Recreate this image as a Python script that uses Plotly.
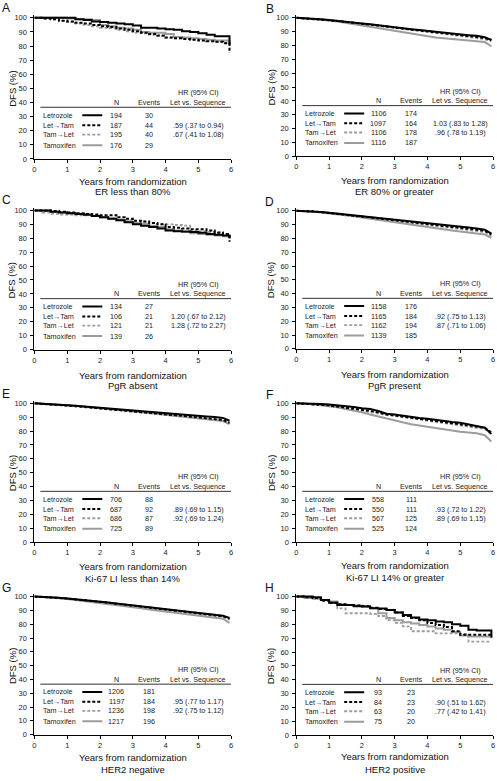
import plotly.graph_objects as go

W, H = 497, 781

YEARS = [0, 0.25, 0.5, 0.75, 1, 1.25, 1.5, 1.75, 2, 2.25, 2.5, 2.75, 3, 3.25, 3.5, 3.75,
         4, 4.25, 4.5, 4.75, 5, 5.25, 5.5, 5.75, 5.95]
X_TICKS = [0, 1, 2, 3, 4, 5, 6]
Y_TICKS = [0, 10, 20, 30, 40, 50, 60, 70, 80, 90, 100]
ARMS = ["Letrozole", "Let\u2192Tam", "Tam\u2192Let", "Tamoxifen"]

# Panel A: ER less than 80%
A_LET = [100, 100, 100, 100, 100, 99, 98.5, 97.5, 97, 96.5, 96, 95.5, 94.5, 93, 93, 92.5, 92, 91.5, 90.5, 90, 89, 88, 87, 87, 81]
A_LT = [100, 99.5, 99, 98, 97.5, 96.5, 96, 95, 94, 93.5, 92.5, 91.5, 90.5, 89.5, 88.5, 87.5, 86, 85.5, 85, 84.5, 84, 83.5, 83, 82, 75]
A_TL = [100, 99.5, 99, 98, 97, 96, 95, 94, 93, 92.5, 91.5, 90.5, 89.5, 89, 88, 87, 86, 85.5, 85, 84.5, 84, 83.5, 83, 82.5, 80]
A_TAM = [100, 100, 100, 100, 99.5, 99, 99, 98.5, 95, 94, 93, 92.5, 91.5, 90, 89.5, 89.5, 88.5, 86.5, 86, 85.5, 85, 84.5, 84, 84, 82]
A_N = [194, 187, 195, 176]
A_EV = [30, 44, 40, 29]
A_HR = ["", ".59 (.37 to 0.94)", ".67 (.41 to 1.08)", ""]

# Panel B: ER 80% or greater
B_LET = [100, 99.8, 99.5, 99, 98.5, 98, 97.5, 96.8, 96, 95.3, 94.5, 93.8, 93, 92.5, 91.8, 91.2, 90.5, 90, 89.3, 88.7, 88, 87.5, 87, 86, 84]
B_LT = [100, 99.7, 99.3, 98.8, 98.3, 97.8, 97.2, 96.6, 96, 95.2, 94.5, 93.8, 93, 92.3, 91.6, 91, 90.3, 89.7, 89, 88.4, 87.8, 87, 86.3, 85.5, 84]
B_TL = [100, 99.7, 99.3, 98.8, 98.2, 97.6, 97, 96.3, 95.6, 94.9, 94.2, 93.5, 92.7, 92, 91.3, 90.6, 89.9, 89.2, 88.5, 87.8, 87, 86.2, 85.4, 84.5, 83]
B_TAM = [100, 99.6, 99.2, 98.6, 98, 97.3, 96.5, 95.5, 94.5, 93.5, 92.5, 91.5, 90.5, 89.5, 88.5, 87.5, 86.5, 85.8, 85.2, 84.6, 84, 83.3, 83, 82.5, 79.5]
B_N = [1106, 1097, 1106, 1116]
B_EV = [174, 164, 178, 187]
B_HR = ["", "1.03 (.83 to 1.28)", ".96 (.78 to 1.19)", ""]

# Panel C: PgR absent
C_LET = [100, 100, 99, 98.5, 98, 97.5, 96.8, 96, 95, 94, 93, 91.5, 90, 89, 88, 87, 85.5, 85, 84.8, 84.5, 84, 83, 82.5, 82, 80]
C_LT = [100, 100, 99.5, 99, 98.5, 98, 97.5, 97, 96.5, 96.5, 95, 94, 92.5, 92, 91, 90, 88, 87.5, 87, 86.5, 86.5, 85.5, 84, 83, 77.5]
C_TL = [100, 98.5, 97.5, 97, 97, 96.5, 96.5, 96, 95, 94.5, 93.5, 93, 92.5, 92, 91, 90, 90, 89.5, 89, 85.5, 85, 84.5, 84.5, 83, 80]
C_TAM = [100, 99.5, 99, 98.5, 98, 97.5, 97, 96, 95, 94, 93, 92, 91, 90.5, 89, 88, 86.5, 85.5, 84.5, 83.5, 83, 82.5, 82, 81.5, 81]
C_N = [134, 106, 121, 139]
C_EV = [27, 21, 21, 26]
C_HR = ["", "1.20 (.67 to 2.12)", "1.28 (.72 to 2.27)", ""]

# Panel D: PgR present
D_LET = [100, 99.9, 99.7, 99.2, 98.6, 98, 97.4, 96.8, 96.2, 95.6, 95, 94.3, 93.6, 93, 92.3, 91.6, 91, 90.4, 89.7, 89.2, 88.7, 88, 87.2, 86.3, 83.5]
D_LT = [100, 99.9, 99.6, 99.1, 98.5, 97.9, 97.3, 96.6, 96, 95.3, 94.6, 93.9, 93.2, 92.5, 91.8, 91.1, 90.5, 89.8, 89.2, 88.6, 88, 87.3, 86.6, 85.6, 83]
D_TL = [100, 99.8, 99.5, 99, 98.4, 97.7, 97, 96.3, 95.6, 94.9, 94.1, 93.3, 92.5, 91.8, 91, 90.3, 89.6, 88.9, 88.2, 87.5, 86.8, 86.1, 85.4, 84.6, 82]
D_TAM = [100, 99.8, 99.4, 98.8, 98.2, 97.5, 96.8, 96, 95.2, 94.3, 93.4, 92.5, 91.6, 90.7, 89.8, 89, 88.2, 87.4, 86.6, 85.8, 85, 84.3, 83.5, 82.8, 80.5]
D_N = [1158, 1165, 1162, 1139]
D_EV = [176, 184, 194, 185]
D_HR = ["", ".92 (.75 to 1.13)", ".87 (.71 to 1.06)", ""]

# Panel E: Ki-67 LI less than 14%
E_LET = [100, 99.8, 99.5, 99.1, 98.7, 98.2, 97.7, 97.2, 96.7, 96.2, 95.7, 95.2, 94.7, 94.2, 93.7, 93.2, 92.7, 92.3, 91.8, 91.4, 91, 90.6, 90.2, 89.5, 87.5]
E_LT = [100, 99.7, 99.4, 99, 98.5, 98, 97.5, 97, 96.5, 96, 95.5, 95, 94.5, 94, 93.4, 92.8, 92.2, 91.6, 91, 90.4, 89.8, 89.2, 88.6, 88, 86]
E_TL = [100, 99.7, 99.3, 98.9, 98.4, 97.9, 97.4, 96.9, 96.4, 95.9, 95.3, 94.8, 94.2, 93.6, 93, 92.4, 91.8, 91.2, 90.6, 90, 89.4, 88.8, 88.2, 87.5, 85.5]
E_TAM = [100, 99.8, 99.5, 99.1, 98.7, 98.2, 97.7, 97.2, 96.6, 96, 95.4, 94.8, 94.2, 93.6, 93, 92.3, 91.6, 90.9, 90.2, 89.6, 89, 88.5, 88, 87.3, 85]
E_N = [706, 687, 686, 725]
E_EV = [88, 92, 87, 89]
E_HR = ["", ".89 (.69 to 1.15)", ".92 (.69 to 1.24)", ""]

# Panel F: Ki-67 LI 14% or greater
F_LET = [100, 100, 99.8, 99.5, 99.2, 98.7, 98, 97.3, 96.5, 96, 94.5, 92.5, 92, 91, 90.5, 89.5, 89, 88, 87.5, 86.5, 86, 85, 84, 82.5, 78]
F_LT = [100, 99.8, 99.4, 99, 98.5, 97.8, 97, 96.2, 95.5, 94.5, 93.5, 92, 91.3, 90.5, 89.8, 89, 88.2, 87.4, 86.7, 86, 85.3, 84.5, 83.7, 82.5, 79]
F_TL = [100, 99.8, 99.3, 98.8, 98.2, 97.5, 96.5, 95.5, 94.5, 93.5, 92.5, 91.5, 90.8, 90, 89.2, 88.4, 87.6, 86.8, 86, 85.2, 84.4, 83.6, 82.8, 81.5, 77.5]
F_TAM = [100, 99.8, 99.3, 98.7, 98, 97.2, 96, 95, 93.5, 92, 90.5, 89, 87.5, 86.2, 85, 84, 83, 82, 81, 80.2, 79.5, 79, 78.4, 77, 72.5]
F_N = [558, 550, 567, 525]
F_EV = [111, 111, 125, 124]
F_HR = ["", ".93 (.72 to 1.22)", ".89 (.69 to 1.15)", ""]

# Panel G: HER2 negative
G_LET = [100, 99.9, 99.6, 99.2, 98.7, 98.2, 97.6, 97, 96.4, 95.7, 95, 94.3, 93.6, 93, 92.3, 91.6, 91, 90.3, 89.6, 89, 88.3, 87.6, 87, 86.2, 84.5]
G_LT = [100, 99.8, 99.5, 99.1, 98.6, 98.1, 97.5, 96.9, 96.3, 95.6, 94.9, 94.2, 93.5, 92.8, 92.1, 91.4, 90.7, 90, 89.3, 88.6, 88, 87.3, 86.6, 85.8, 84]
G_TL = [100, 99.8, 99.5, 99, 98.5, 97.9, 97.3, 96.7, 96, 95.3, 94.6, 93.9, 93.2, 92.5, 91.7, 91, 90.2, 89.5, 88.8, 88, 87.3, 86.6, 85.9, 85.1, 83.5]
G_TAM = [100, 99.8, 99.4, 98.9, 98.3, 97.6, 96.9, 96.2, 95.5, 94.7, 93.9, 93.1, 92.3, 91.5, 90.7, 89.9, 89.1, 88.3, 87.6, 86.9, 86.2, 85.5, 84.8, 84, 81]
G_N = [1206, 1197, 1236, 1217]
G_EV = [181, 184, 198, 196]
G_HR = ["", ".95 (.77 to 1.17)", ".92 (.75 to 1.12)", ""]

# Panel H: HER2 positive
H_LET = [100, 100, 99.5, 97.5, 95.5, 94, 94, 93, 92.8, 91.6, 91.5, 90.4, 88.5, 86.8, 84.9, 83.5, 83, 82, 81.5, 80, 79, 76, 75.5, 75.5, 70.5]
H_LT = [100, 99.5, 99, 97, 95.5, 94.5, 94, 93.5, 93, 92, 91, 90.4, 88.5, 86, 84.5, 83, 81, 79.5, 78, 75, 72.5, 72.5, 72.5, 72.5, 72.5]
H_TL = [100, 99, 98.5, 97.5, 95.5, 91.5, 88, 88, 88, 87.5, 86, 83, 81, 78.5, 75, 75, 75, 73.5, 73.5, 73.5, 73, 67.5, 67.5, 67.5, 67.5]
H_TAM = [100, 99, 98.5, 97.5, 96.5, 94.5, 94, 93.5, 93, 91.6, 88, 84.5, 83, 81.5, 80.5, 79.5, 78.4, 77, 76, 74.5, 72, 71.2, 71.2, 71.2, 70]
H_N = [93, 84, 63, 75]
H_EV = [23, 23, 20, 20]
H_HR = ["", ".90 (.51 to 1.62)", ".77 (.42 to 1.41)", ""]

LETTERS = ["A", "B", "C", "D", "E", "F", "G", "H"]
SUBTITLES = ["ER less than 80%", "ER 80% or greater", "PgR absent", "PgR present",
             "Ki-67 LI less than 14%", "Ki-67 LI 14% or greater", "HER2 negative", "HER2 positive"]

PANELS = [
    (A_LET, A_LT, A_TL, A_TAM, A_N, A_EV, A_HR),
    (B_LET, B_LT, B_TL, B_TAM, B_N, B_EV, B_HR),
    (C_LET, C_LT, C_TL, C_TAM, C_N, C_EV, C_HR),
    (D_LET, D_LT, D_TL, D_TAM, D_N, D_EV, D_HR),
    (E_LET, E_LT, E_TL, E_TAM, E_N, E_EV, E_HR),
    (F_LET, F_LT, F_TL, F_TAM, F_N, F_EV, F_HR),
    (G_LET, G_LT, G_TL, G_TAM, G_N, G_EV, G_HR),
    (H_LET, H_LT, H_TL, H_TAM, H_N, H_EV, H_HR),
]

# ---- layout geometry (pixels) ----
COLS = {"L": (32.7, 231.0), "R": (296.7, 495.0)}
# col, pixel of 100, pixel of 0, x-title y, subtitle y, letter y
GEOM = [
    ("L", 16.0, 158.3, 180.7, 191.7, 6.0),
    ("R", 16.0, 155.7, 180.3, 191.7, 7.5),
    ("L", 210.3, 350.7, 376.5, 386.9, 200.0),
    ("R", 210.7, 350.0, 375.5, 386.9, 202.0),
    ("L", 405.0, 545.0, 570.0, 581.5, 396.0),
    ("R", 405.0, 545.0, 569.0, 580.7, 396.5),
    ("L", 600.0, 739.3, 762.5, 774.3, 591.0),
    ("R", 600.0, 739.7, 761.7, 774.3, 591.5),
]
SHAPES_HV = [True, False, True, False, False, False, False, True]

FONT = "Liberation Sans, Arial, Helvetica, sans-serif"
STYLES = [
    dict(color="#000000", width=2.0, dash="solid"),
    dict(color="#000000", width=2.0, dash="3px,2px"),
    dict(color="#9c9c9c", width=1.8, dash="3px,2px"),
    dict(color="#9c9c9c", width=2.0, dash="solid"),
]

# table positions (data units)
T_NAME_X, T_SAMPLE_X, T_N_X, T_EV_X, T_HR_X = 0.2, (1.46, 2.07), 2.5, 3.5, 5.0
T_HDR1_Y, T_HDR2_Y, T_RULE_Y = 47.0, 40.0, 36.6
T_ROW_Y = [31.0, 23.8, 17.2, 9.7]
TFS = 7.2


def pxx(p):
    return p / W


def pxy(p):
    return 1 - p / H


fig = go.Figure()
annotations = []
shapes = []
layout = {}

for k, (geom, data) in enumerate(zip(GEOM, PANELS)):
    col, p100, p0, ty, sy, ly = geom
    xl, xr = COLS[col]
    sfx = "" if k == 0 else str(k + 1)
    xa, ya = "x" + sfx, "y" + sfx
    top = p100 - 0.02 * (p0 - p100)
    layout["xaxis" + sfx] = dict(
        domain=[pxx(xl), pxx(xr)], range=[0, 6], anchor=ya, tickvals=X_TICKS,
        ticks="outside", ticklen=3, tickwidth=1, tickcolor="#000",
        showline=True, linecolor="#000", linewidth=1, showgrid=False, zeroline=False,
        tickfont=dict(size=7.5, color="#222", family=FONT), fixedrange=True)
    layout["yaxis" + sfx] = dict(
        domain=[pxy(p0), pxy(top)], range=[0, 102], anchor=xa, tickvals=Y_TICKS,
        ticks="outside", ticklen=3, tickwidth=1, tickcolor="#000",
        showline=True, linecolor="#000", linewidth=1, showgrid=False, zeroline=False,
        tickfont=dict(size=7.5, color="#222", family=FONT), fixedrange=True,
        ticklabelstandoff=2)

    series = data[:4]
    Ns, EVs, HRs = data[4], data[5], data[6]
    shape = "hv" if SHAPES_HV[k] else "linear"
    for j in [3, 2, 1, 0]:
        fig.add_trace(go.Scatter(x=YEARS, y=series[j], mode="lines", line=dict(shape=shape, **STYLES[j]),
                                 xaxis=xa, yaxis=ya, showlegend=False, hoverinfo="skip"))
    tf = dict(size=TFS, family=FONT, color="#222")
    annotations.append(dict(x=T_HR_X, y=T_HDR1_Y, xref=xa, yref=ya, text="HR (95% CI)", showarrow=False,
                            xanchor="center", font=tf))
    for txt, xx in [("N", T_N_X), ("Events", T_EV_X), ("Let vs. Sequence", T_HR_X)]:
        annotations.append(dict(x=xx, y=T_HDR2_Y, xref=xa, yref=ya, text=txt, showarrow=False,
                                xanchor="center", font=tf))
    shapes.append(dict(type="line", xref=xa, yref=ya, x0=0.18, x1=6, y0=T_RULE_Y, y1=T_RULE_Y,
                       line=dict(color="#333", width=1)))
    for j in range(4):
        ry = T_ROW_Y[j]
        annotations.append(dict(x=T_NAME_X, y=ry, xref=xa, yref=ya, text=ARMS[j], showarrow=False,
                                xanchor="left", font=tf))
        annotations.append(dict(x=T_N_X, y=ry, xref=xa, yref=ya, text=str(Ns[j]), showarrow=False,
                                xanchor="center", font=tf))
        annotations.append(dict(x=T_EV_X, y=ry, xref=xa, yref=ya, text=str(EVs[j]), showarrow=False,
                                xanchor="center", font=tf))
        if HRs[j]:
            annotations.append(dict(x=T_HR_X, y=ry, xref=xa, yref=ya, text=HRs[j], showarrow=False,
                                    xanchor="center", font=tf))
        fig.add_trace(go.Scatter(x=list(T_SAMPLE_X), y=[ry, ry], mode="lines", line=STYLES[j],
                                 xaxis=xa, yaxis=ya, showlegend=False, hoverinfo="skip"))
    cx = (xl + xr) / 2
    big = dict(size=9.5, family=FONT, color="#111")
    annotations.append(dict(x=pxx(cx), y=pxy(ty), xref="paper", yref="paper", text="Years from randomization",
                            showarrow=False, xanchor="center", yanchor="middle", font=big))
    annotations.append(dict(x=pxx(cx), y=pxy(sy), xref="paper", yref="paper", text=SUBTITLES[k],
                            showarrow=False, xanchor="center", yanchor="middle", font=big))
    ytx = 10.5 if col == "L" else 271.5
    annotations.append(dict(x=pxx(ytx), y=pxy((p100 + p0) / 2), xref="paper", yref="paper", text="DFS (%)",
                            textangle=-90, showarrow=False, xanchor="center", yanchor="middle", font=big))
    lx = 4.5 if col == "L" else 270.0
    annotations.append(dict(x=pxx(lx), y=pxy(ly), xref="paper", yref="paper", text=LETTERS[k],
                            showarrow=False, xanchor="center", yanchor="middle",
                            font=dict(size=12, family=FONT, color="#111")))

fig.update_layout(width=W, height=H, margin=dict(l=0, r=0, t=0, b=0), paper_bgcolor="white",
                  plot_bgcolor="white", showlegend=False, annotations=annotations, shapes=shapes,
                  font=dict(family=FONT), **layout)
fig.write_html("out.html", config={"displayModeBar": False},
               post_script="document.body.style.margin='0';document.body.style.overflow='hidden';")
